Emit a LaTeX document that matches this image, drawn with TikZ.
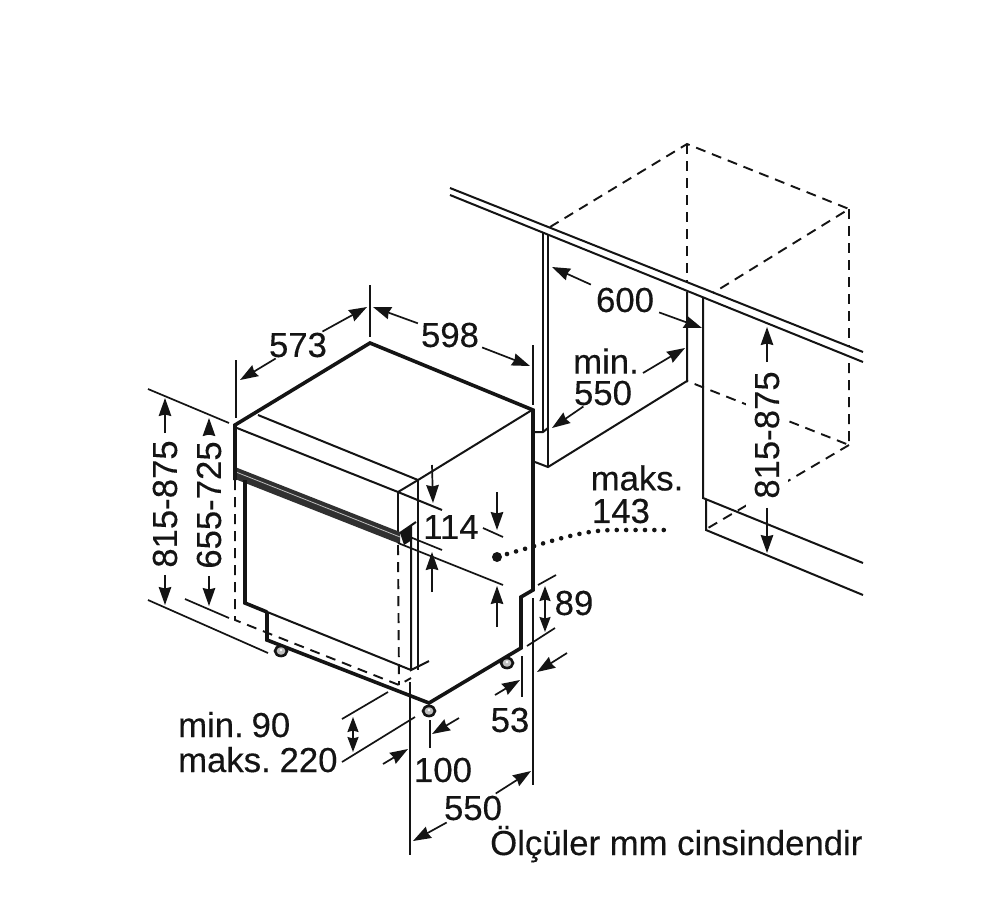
\documentclass[tikz,border=0pt]{standalone}
\usepackage{fontspec}
\setmainfont{Liberation Sans}
\newfontfamily\labfont{Liberation Sans}[FakeBold=0.25]
\usetikzlibrary{arrows.meta}
\definecolor{ink}{gray}{0.08}
\tikzset{
  heavy/.style={draw=ink,line width=3.6pt,line join=miter},
  thinline/.style={draw=ink,line width=2pt},
  dashline/.style={draw=ink,line width=1.9pt,dash pattern=on 10pt off 7pt},
  ext/.style={draw=ink,line width=1.7pt},
  dimarr/.style={draw=ink,line width=1.7pt,-{Stealth[length=18pt,width=12.5pt,inset=1.5pt]}},
  dimboth/.style={draw=ink,line width=1.7pt,{Stealth[length=15pt,width=11pt,inset=1.5pt]}-{Stealth[length=15pt,width=11pt,inset=1.5pt]}},
  lab/.style={font=\labfont\fontsize{34.7}{36}\selectfont,text=ink,inner sep=2pt},
  foot/.style={draw=ink,fill=gray!50,line width=2.6pt}
}
\begin{document}
\begin{tikzpicture}[x=1pt,y=-1pt]
\useasboundingbox (0,0) rectangle (1000,898);
\fill[white] (0,0) rectangle (1000,898);

% niche: dashed carcass
\draw[dashline] (550,227) -- (687,144) -- (849,209) -- (713,293);
\draw[dashline] (687,144) -- (687,283);
\draw[dashline] (849,209) -- (849,347);
\draw[dashline] (849,363) -- (849,445) -- (687,381);
\draw[dashline] (849,445) -- (708,528);
% worktop
\draw[thinline] (450,188) -- (863,352);
\draw[thinline] (450,195) -- (863,362);
% niche: solid
\draw[thinline] (543,233) -- (543,432);
\draw[thinline] (548,235) -- (548,467);
\draw[thinline] (535,432) -- (543,432) -- (548,428);
\draw[thinline] (535,462) -- (548,467) -- (687,381) -- (687,292);
\draw[thinline] (703,298) -- (703,498) -- (863,563);
\draw[thinline] (706,500) -- (706,530) -- (863,595);

% appliance thin parts
\draw[thinline] (258,415) -- (418,480) -- (532,410);
\draw[thinline] (237,428) -- (398,492) -- (442,510);
\draw[thinline] (398,492) -- (418,480);
\draw[thinline] (398,492) -- (398,535);
\draw[thinline] (418,480) -- (418,670);
\draw[thinline] (411,538) -- (411,670) -- (429,661);
\draw[thinline] (400,533) -- (416,522);
\draw[thinline] (245,603) -- (411,670);
% dashed door outline
\draw[dashline] (235,480) -- (235,620) -- (399,685) -- (411,678);
\draw[dashline] (398,545) -- (399,685);
% band
\fill[ink!88!white] (235,467) -- (400,532) -- (400,544) -- (235,479) -- cycle;
\draw[white!75!black,line width=.8pt] (236,472) -- (400,537);
\fill[ink] (400,533) -- (412,525) -- (412,540) -- (404,545) -- cycle;
% heavy outline
\draw[heavy] (235,480) -- (235,425) -- (370,343) -- (533,410) -- (533,590) -- (521,597) -- (521,648) -- (429,703) -- (267,640) -- (267,613);
\draw[heavy] (245,480) -- (245,603) -- (267,612);
% feet
\draw[foot] (281,651) ellipse (6 and 5);
\draw[foot] (429,711) ellipse (6 and 5);
\draw[foot] (507,663) ellipse (6 and 5);
\fill[white] (281,650) circle (1.4); \fill[white] (429,710) circle (1.4); \fill[white] (507,662) circle (1.4);

% extension lines
\draw[ext] (236,360) -- (236,418);
\draw[ext] (370,285) -- (370,337);
\draw[ext] (533,345) -- (533,405);
\draw[ext] (148,389) -- (229,423);
\draw[ext] (148,600) -- (268,653);
\draw[ext] (185,599) -- (229,618);
\draw[ext] (410,537) -- (442,550);
\draw[ext] (398,543) -- (503,585);
\draw[ext] (483,528) -- (503,537);
\draw[ext] (538,585) -- (556,575);
\draw[ext] (527,646) -- (555,628);
\draw[ext] (533,598) -- (533,785);
\draw[ext] (522,656) -- (522,697);
\draw[ext] (430,720) -- (430,748);
\draw[ext] (410,682) -- (410,855);
\draw[ext] (342,719) -- (388,692);
\draw[ext] (342,762) -- (415,717);

% labels
\node[lab,inner sep=1pt] (l573) at (298,345) {573};
\node[lab,inner sep=3pt] (l598) at (450,335) {598};
\node[lab,inner sep=5pt] (l600) at (625,300) {600};
\node[lab] (lmin) at (606,361) {min.};
\node[lab,inner sep=1pt] (l550a) at (603,393) {550};
\node[lab] (lmaks) at (637,478) {maks.};
\node[lab] (l143) at (621,511) {143};
\node[lab] (l114) at (451,527) {114};
\node[lab] (l89) at (574,603) {89};
\node[lab] (l53) at (510,720) {53};
\node[lab] (l100) at (443,770) {100};
\node[lab,inner sep=2pt] (l550b) at (473,808) {550};
\node[lab,anchor=base west,inner sep=0pt] (lmin90) at (178,737) {min.\hspace{-5pt} 90};
\node[lab,anchor=base west,inner sep=0pt] (lmaks220) at (178,772) {maks.\hspace{-4pt} 220};
\node[lab,anchor=base west,inner sep=0pt] (lnote) at (490,855) {Ölçüler mm cinsindendir};
\node[lab,rotate=90,inner sep=7pt,fill=white] (l815a) at (165,504) {815-875};
\node[lab,rotate=90,inner sep=7pt] (l655) at (209,505) {655-725};
\node[lab,rotate=90,inner sep=9pt,fill=white] (l815b) at (767,435) {815-875};

% arrow tips
\coordinate (t573a) at (240,380);
\coordinate (t573b) at (367,307);
\coordinate (t598a) at (373,307);
\coordinate (t598b) at (530,366);
\coordinate (t600a) at (552,267);
\coordinate (t600b) at (702,328);
\coordinate (t550aa) at (552,428);
\coordinate (s550ab) at (643,373);
\coordinate (t550ab) at (685,348);
\coordinate (t550ba) at (413,841);
\coordinate (t550bb) at (531,771);
\coordinate (t815aa) at (165,398);
\coordinate (t815ab) at (165,605);
\coordinate (t655a) at (209,418);
\coordinate (t655b) at (209,606);
\coordinate (t815ba) at (767,327);
\coordinate (t815bb) at (767,553);

\draw[dimarr] (l573) -- (t573a);
\draw[dimarr] (l573) -- (t573b);
\draw[dimarr] (l598) -- (t598a);
\draw[dimarr] (l598) -- (t598b);
\draw[dimarr] (l600) -- (t600a);
\draw[dimarr] (l600) -- (t600b);
\draw[dimarr] (l550a) -- (t550aa);
\draw[dimarr] (s550ab) -- (t550ab);
\draw[dimarr] (l550b) -- (t550ba);
\draw[dimarr] (l550b) -- (t550bb);
\draw[dimarr] (l815a) -- (t815aa);
\draw[dimarr] (l815a) -- (t815ab);
\draw[dimarr] (l655) -- (t655a);
\draw[dimarr] (l655) -- (t655b);
\draw[dimarr] (l815b) -- (t815ba);
\draw[dimarr] (l815b) -- (t815bb);

% free dimension arrows
\coordinate (a1s) at (432,465); \coordinate (a1t) at (433,503);
\coordinate (a2s) at (432,592); \coordinate (a2t) at (432,552);
\coordinate (a3s) at (497,492); \coordinate (a3t) at (497,530);
\coordinate (a4s) at (497,627); \coordinate (a4t) at (497,586);
\coordinate (a5s) at (545,586); \coordinate (a5t) at (545,632);
\coordinate (a6s) at (567,653); \coordinate (a6t) at (537,672);
\coordinate (a7s) at (495,695); \coordinate (a7t) at (520,680);
\coordinate (a8s) at (459,718); \coordinate (a8t) at (432,734);
\coordinate (a9s) at (383,764); \coordinate (a9t) at (408,749);
\coordinate (a10s) at (353,717); \coordinate (a10t) at (353,752);
\draw[dimarr] (a1s) -- (a1t);
\draw[dimarr] (a2s) -- (a2t);
\draw[dimarr] (a3s) -- (a3t);
\draw[dimarr] (a4s) -- (a4t);
\draw[dimboth] (a5s) -- (a5t);
\draw[dimarr] (a6s) -- (a6t);
\draw[dimarr] (a7s) -- (a7t);
\draw[dimarr] (a8s) -- (a8t);
\draw[dimarr] (a9s) -- (a9t);
\draw[dimboth] (a10s) -- (a10t);

% dotted leader
\coordinate (dot) at (497,557);
\coordinate (dotend) at (666,530);
\fill[ink] (dot) circle (5);
\draw[ink,line width=4.6pt,line cap=round,dash pattern=on 0pt off 9.4pt] (507,554) .. controls (550,542) and (580,530) .. (615,530) -- (dotend);
\end{tikzpicture}
\end{document}
